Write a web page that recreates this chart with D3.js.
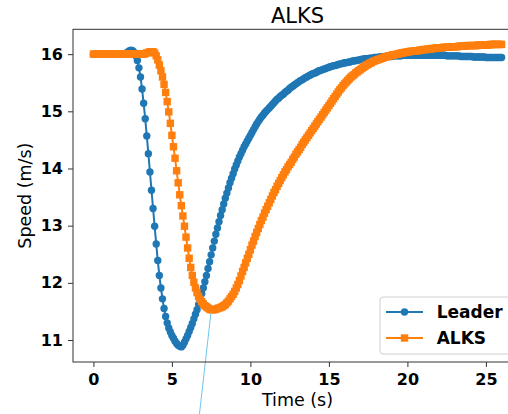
<!DOCTYPE html>
<html>
<head>
<meta charset="UTF-8">
<script src="https://d3js.org/d3.v7.min.js"></script>
<style>
  body { margin: 0; background: #fff; }
  svg { display: block; font-family: "DejaVu Sans", sans-serif; }
</style>
</head>
<body>
<div id="chart"></div>
<script>
// speeds sampled every 0.1 s, from 0 s to 26 s (one row per second)
const dt = 0.1;

const leaderSpeed = [
  16.00, 16.00, 16.00, 16.00, 16.00, 16.00, 16.00, 16.00, 16.00, 16.00,
  16.00, 16.00, 16.00, 16.00, 16.00, 16.00, 16.00, 16.00, 16.00, 16.00,
  16.00, 16.02, 16.04, 16.06, 16.07, 16.06, 16.03, 15.97, 15.89, 15.76,
  15.60, 15.39, 15.14, 14.87, 14.57, 14.26, 13.94, 13.62, 13.30, 12.99,
  12.68, 12.39, 12.13, 11.91, 11.72, 11.55, 11.41, 11.30, 11.21, 11.14,
  11.08, 11.03, 10.98, 10.94, 10.91, 10.89, 10.88, 10.91, 10.96, 11.02,
  11.08, 11.15, 11.22, 11.29, 11.37, 11.45, 11.53, 11.62, 11.71, 11.81,
  11.91, 12.02, 12.13, 12.25, 12.37, 12.49, 12.61, 12.73, 12.85, 12.96,
  13.07, 13.18, 13.28, 13.38, 13.48, 13.57, 13.66, 13.75, 13.83, 13.91,
  13.99, 14.06, 14.13, 14.20, 14.26, 14.32, 14.38, 14.43, 14.48, 14.53,
  14.58, 14.63, 14.68, 14.73, 14.78, 14.82, 14.86, 14.90, 14.93, 14.97,
  15.00, 15.03, 15.06, 15.09, 15.12, 15.15, 15.18, 15.21, 15.23, 15.26,
  15.28, 15.30, 15.33, 15.35, 15.37, 15.40, 15.42, 15.44, 15.46, 15.48,
  15.50, 15.52, 15.54, 15.55, 15.57, 15.59, 15.60, 15.62, 15.63, 15.65,
  15.66, 15.67, 15.68, 15.70, 15.71, 15.72, 15.73, 15.74, 15.75, 15.76,
  15.77, 15.78, 15.79, 15.80, 15.80, 15.81, 15.82, 15.83, 15.83, 15.84,
  15.85, 15.85, 15.86, 15.86, 15.87, 15.88, 15.88, 15.89, 15.89, 15.90,
  15.90, 15.91, 15.91, 15.92, 15.92, 15.92, 15.93, 15.93, 15.93, 15.94,
  15.94, 15.94, 15.95, 15.95, 15.95, 15.95, 15.96, 15.96, 15.96, 15.96,
  15.96, 15.97, 15.97, 15.97, 15.97, 15.97, 15.97, 15.98, 15.98, 15.98,
  15.98, 15.98, 15.98, 15.98, 15.98, 15.98, 15.98, 15.98, 15.98, 15.98,
  15.98, 15.98, 15.98, 15.98, 15.98, 15.98, 15.98, 15.98, 15.98, 15.98,
  15.98, 15.98, 15.98, 15.98, 15.98, 15.97, 15.97, 15.97, 15.97, 15.97,
  15.97, 15.97, 15.97, 15.97, 15.96, 15.96, 15.96, 15.96, 15.96, 15.96,
  15.96, 15.96, 15.95, 15.95, 15.95, 15.95, 15.95, 15.95, 15.95, 15.95,
  15.94, 15.94, 15.94, 15.94, 15.94, 15.94, 15.94, 15.94, 15.94, 15.94,
  15.94
];

const alksSpeed = [
  16.00, 16.00, 16.00, 16.00, 16.00, 16.00, 16.00, 16.00, 16.00, 16.00,
  16.00, 16.00, 16.00, 16.00, 16.00, 16.00, 16.00, 16.00, 16.00, 16.00,
  16.00, 16.00, 16.00, 16.00, 16.00, 16.00, 16.00, 16.00, 16.00, 16.00,
  16.00, 16.00, 16.00, 16.01, 16.02, 16.03, 16.04, 16.04, 16.04, 16.02,
  15.97, 15.90, 15.81, 15.71, 15.60, 15.47, 15.33, 15.17, 14.99, 14.79,
  14.58, 14.38, 14.18, 13.96, 13.75, 13.54, 13.35, 13.17, 12.99, 12.80,
  12.61, 12.43, 12.27, 12.13, 12.01, 11.91, 11.83, 11.76, 11.71, 11.67,
  11.63, 11.60, 11.58, 11.56, 11.54, 11.53, 11.53, 11.53, 11.54, 11.55,
  11.56, 11.57, 11.58, 11.60, 11.62, 11.65, 11.68, 11.72, 11.76, 11.80,
  11.85, 11.91, 11.97, 12.04, 12.12, 12.20, 12.27, 12.35, 12.43, 12.50,
  12.58, 12.66, 12.73, 12.81, 12.88, 12.95, 13.02, 13.09, 13.15, 13.22,
  13.28, 13.34, 13.40, 13.46, 13.52, 13.58, 13.63, 13.69, 13.74, 13.79,
  13.84, 13.89, 13.94, 13.98, 14.03, 14.07, 14.11, 14.16, 14.20, 14.25,
  14.29, 14.33, 14.37, 14.42, 14.46, 14.50, 14.54, 14.58, 14.62, 14.66,
  14.70, 14.74, 14.78, 14.82, 14.86, 14.90, 14.94, 14.98, 15.02, 15.06,
  15.10, 15.14, 15.18, 15.22, 15.26, 15.30, 15.34, 15.38, 15.41, 15.45,
  15.48, 15.51, 15.54, 15.57, 15.60, 15.62, 15.64, 15.67, 15.69, 15.71,
  15.73, 15.75, 15.77, 15.79, 15.81, 15.82, 15.84, 15.85, 15.87, 15.88,
  15.89, 15.90, 15.91, 15.92, 15.93, 15.94, 15.95, 15.96, 15.97, 15.97,
  15.98, 15.99, 15.99, 16.00, 16.00, 16.01, 16.02, 16.02, 16.03, 16.03,
  16.04, 16.04, 16.05, 16.05, 16.05, 16.06, 16.06, 16.06, 16.07, 16.07,
  16.08, 16.08, 16.08, 16.09, 16.09, 16.09, 16.10, 16.10, 16.10, 16.11,
  16.11, 16.11, 16.11, 16.12, 16.12, 16.12, 16.12, 16.12, 16.13, 16.13,
  16.13, 16.13, 16.13, 16.14, 16.14, 16.14, 16.14, 16.14, 16.15, 16.15,
  16.15, 16.15, 16.15, 16.15, 16.15, 16.16, 16.16, 16.16, 16.16, 16.16,
  16.16, 16.16, 16.16, 16.17, 16.17, 16.17, 16.17, 16.17, 16.17, 16.17,
  16.17
];

const seriesNames = ["Leader", "ALKS"];
const seriesColors = ["#1f77b4", "#ff7f0e"];
const xTicks = [0, 5, 10, 15, 20, 25];
const yTicks = [11, 12, 13, 14, 15, 16];

// thin light-blue pointer line under the ALKS minimum (time, speed)
const pointerTime = [7.48, 6.72];
const pointerSpeed = [11.46, 9.62];

const W = 508, H = 414;
// plot box edges in px (right edge falls outside the picture)
const box = { left: 73, right: 522, top: 29.3, bottom: 362 };

const svg = d3.select("#chart").append("svg")
  .attr("width", W)
  .attr("height", H);

// matplotlib style 5% margins
const tMax = (leaderSpeed.length - 1) * dt;
const allV = leaderSpeed.concat(alksSpeed);
const vMin = d3.min(allV), vMax = d3.max(allV);
const vPad = (vMax - vMin) * 0.05;

const x = d3.scaleLinear()
  .domain([-tMax * 0.05, tMax * 1.05])
  .range([box.left, box.right]);
const y = d3.scaleLinear()
  .domain([vMin - vPad, vMax + vPad])
  .range([box.bottom, box.top]);

const series = [leaderSpeed, alksSpeed].map((vals, k) => ({
  name: seriesNames[k],
  color: seriesColors[k],
  points: vals.map((v, i) => ({ t: i * dt, v: v }))
}));

const line = d3.line().x(d => x(d.t)).y(d => y(d.v));

// Leader: line + circles
svg.append("path")
  .datum(series[0].points)
  .attr("d", line)
  .attr("fill", "none")
  .attr("stroke", series[0].color)
  .attr("stroke-width", 2);
svg.append("g").selectAll("circle")
  .data(series[0].points)
  .join("circle")
  .attr("cx", d => x(d.t))
  .attr("cy", d => y(d.v))
  .attr("r", 3.7)
  .attr("fill", series[0].color);

// ALKS: line + squares
const sq = 7.4;
svg.append("path")
  .datum(series[1].points)
  .attr("d", line)
  .attr("fill", "none")
  .attr("stroke", series[1].color)
  .attr("stroke-width", 2);
svg.append("g").selectAll("rect")
  .data(series[1].points)
  .join("rect")
  .attr("x", d => x(d.t) - sq / 2)
  .attr("y", d => y(d.v) - sq / 2)
  .attr("width", sq)
  .attr("height", sq)
  .attr("fill", series[1].color);

// pointer line
svg.append("line")
  .attr("x1", x(pointerTime[0])).attr("y1", y(pointerSpeed[0]))
  .attr("x2", x(pointerTime[1])).attr("y2", y(pointerSpeed[1]))
  .attr("stroke", "#6ec6f0")
  .attr("stroke-width", 1);

// frame
svg.append("rect")
  .attr("x", box.left).attr("y", box.top)
  .attr("width", box.right - box.left)
  .attr("height", box.bottom - box.top)
  .attr("fill", "none")
  .attr("stroke", "#333")
  .attr("stroke-width", 1);

// axes
const xAxis = svg.append("g")
  .attr("transform", `translate(0,${box.bottom})`)
  .call(d3.axisBottom(x).tickValues(xTicks).tickFormat(d3.format("d"))
    .tickSize(5).tickSizeOuter(0).tickPadding(6.5));
const yAxis = svg.append("g")
  .attr("transform", `translate(${box.left},0)`)
  .call(d3.axisLeft(y).tickValues(yTicks).tickFormat(d3.format("d"))
    .tickSize(5).tickSizeOuter(0).tickPadding(5));

[xAxis, yAxis].forEach(ax => {
  ax.select(".domain").remove();
  ax.selectAll("line").attr("stroke", "#333");
  ax.selectAll("text")
    .attr("fill", "#000")
    .style("font-family", "DejaVu Sans, sans-serif")
    .style("font-size", "16px")
    .style("font-weight", "bold");
});

// title and axis labels
svg.append("text")
  .attr("x", (box.left + box.right) / 2)
  .attr("y", 22.7)
  .attr("text-anchor", "middle")
  .style("font-size", "21px")
  .text("ALKS");

svg.append("text")
  .attr("x", (box.left + box.right) / 2)
  .attr("y", 406)
  .attr("text-anchor", "middle")
  .style("font-size", "17.5px")
  .text("Time (s)");

svg.append("text")
  .attr("transform", `translate(30.5,${(box.top + box.bottom) / 2}) rotate(-90)`)
  .attr("text-anchor", "middle")
  .style("font-size", "17.5px")
  .text("Speed (m/s)");

// legend (lower right, runs off the picture)
const legend = svg.append("g").attr("transform", "translate(380,297)");
legend.append("rect")
  .attr("width", 136)
  .attr("height", 57)
  .attr("rx", 3)
  .attr("fill", "#fff")
  .attr("fill-opacity", 0.8)
  .attr("stroke", "#d0d0d0");

series.forEach((s, k) => {
  const g = legend.append("g").attr("transform", `translate(0,${15 + k * 26})`);
  g.append("line")
    .attr("x1", 6).attr("x2", 43)
    .attr("stroke", s.color)
    .attr("stroke-width", 2);
  if (k === 0) {
    g.append("circle").attr("cx", 24.5).attr("r", 3.7).attr("fill", s.color);
  } else {
    g.append("rect").attr("x", 24.5 - sq / 2).attr("y", -sq / 2)
      .attr("width", sq).attr("height", sq).attr("fill", s.color);
  }
  g.append("text")
    .attr("x", 56.7)
    .attr("y", 6)
    .style("font-size", "17px")
    .style("font-weight", "bold")
    .text(s.name);
});
</script>
</body>
</html>
